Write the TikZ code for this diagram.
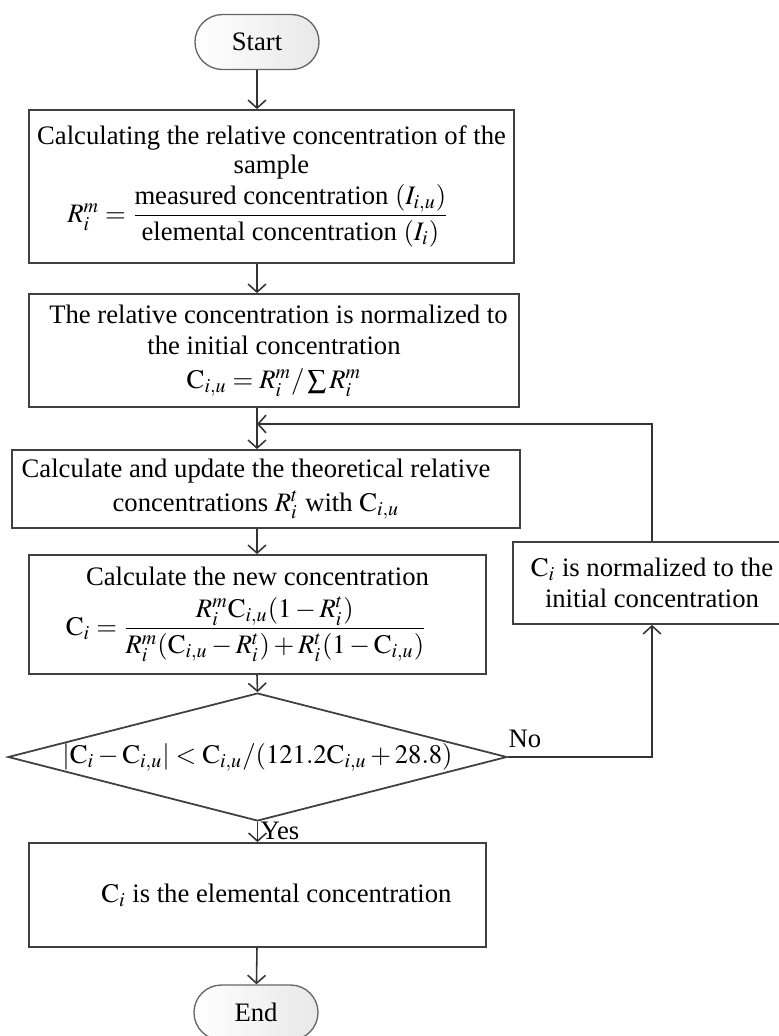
\documentclass[tikz,border=0pt]{standalone}
\usepackage{amsmath}
\usepackage{mathptmx}
\usepackage{fontspec}
\setmainfont{Liberation Serif}
\usetikzlibrary{shapes.geometric,shapes.misc,arrows.meta}
\begin{document}
\begin{tikzpicture}[x=0.45pt,y=-0.45pt,
  txt/.style={font=\fontsize{12}{13.2}\selectfont},
  box/.style={txt,draw=black!75,line width=0.8pt,inner sep=1pt,align=center},
  term/.style={txt,rounded rectangle,draw=black!60,line width=0.6pt,left color=white,right color=black!9,minimum width=62.5pt,minimum height=24.75pt},
  dec/.style={txt,diamond,draw=black!75,line width=0.8pt,inner sep=0pt,aspect=3.9,minimum width=221pt,minimum height=56.7pt},
  arr/.style={draw=black!80,line width=0.7pt,-{Straight Barb[length=3.6pt,width=8pt]}},
  lbl/.style={txt,inner sep=1pt}]
\useasboundingbox (0,0) rectangle (779,1036);
\coordinate (ax) at (257,0);
\node[term] (start) at (257,42) {Start};
\node[box,minimum width=218.25pt,minimum height=68.85pt] (b1) at (271.5,186.5)
  {Calculating the relative concentration of the\\ sample\\[1pt]
   $R_i^m = \dfrac{\text{measured concentration }(I_{i,u})}{\text{elemental concentration }(I_i)}$\hspace*{12pt}};
\node[box,minimum width=220.5pt,minimum height=50.85pt] (b2) at (274,350.5)
  {\hspace*{4pt}The relative concentration is normalized to\\[1pt] the initial concentration\\[2pt]
   $\mathrm{C}_{i,u} = R_i^m/\textstyle\sum R_i^m$};
\node[box,minimum width=228.6pt,minimum height=35.1pt] (b3) at (266,489)
  {Calculate and update the theoretical relative\hspace*{9pt}\\[2pt] concentrations $R_i^t$ with $\mathrm{C}_{i,u}$\hspace*{9pt}};
\node[box,minimum width=205.65pt,minimum height=53.55pt] (b4) at (257.5,614.5)
  {Calculate the new concentration\\[4pt]
   $\mathrm{C}_i = \dfrac{R_i^m\mathrm{C}_{i,u}(1-R_i^t)}{R_i^m(\mathrm{C}_{i,u}-R_i^t)+R_i^t(1-\mathrm{C}_{i,u})}$\hspace*{10pt}};
\node[dec] (dia) at (257.5,757)
  {$|\mathrm{C}_i-\mathrm{C}_{i,u}| < \mathrm{C}_{i,u}/(121.2\mathrm{C}_{i,u}+28.8)$};
\node[box,minimum width=125.1pt,minimum height=36.9pt] (b5) at (652,583)
  {$\mathrm{C}_i$ is normalized to the\\[1pt] initial concentration};
\node[box,minimum width=205.65pt,minimum height=46.8pt] (b6) at (257.5,895)
  {\hspace*{17pt}$\mathrm{C}_i$ is the elemental concentration};
\node[term] (end) at (256,1012.5) {End};
\coordinate (join) at (257,424);
\draw[arr] (start) -- (start |- b1.north);
\draw[arr] (b1.south -| ax) -- (b2.north -| ax);
\draw[arr] (b2.south -| ax) -- (b3.north -| ax);
\draw[arr] (b5.north) |- (join);
\draw[arr] (b3.south -| ax) -- (b4.north -| ax);
\draw[arr] (b4.south -| ax) -- (dia.north);
\draw[arr] (dia.south) -- node[lbl,right,pos=0.45]{Yes} (b6.north -| dia.south);
\draw[arr] (dia.east) node[lbl,anchor=south west,inner sep=0pt,yshift=4pt]{No} -| (b5.south);
\draw[arr] (b6.south -| ax) -- (end);
\end{tikzpicture}
\end{document}
